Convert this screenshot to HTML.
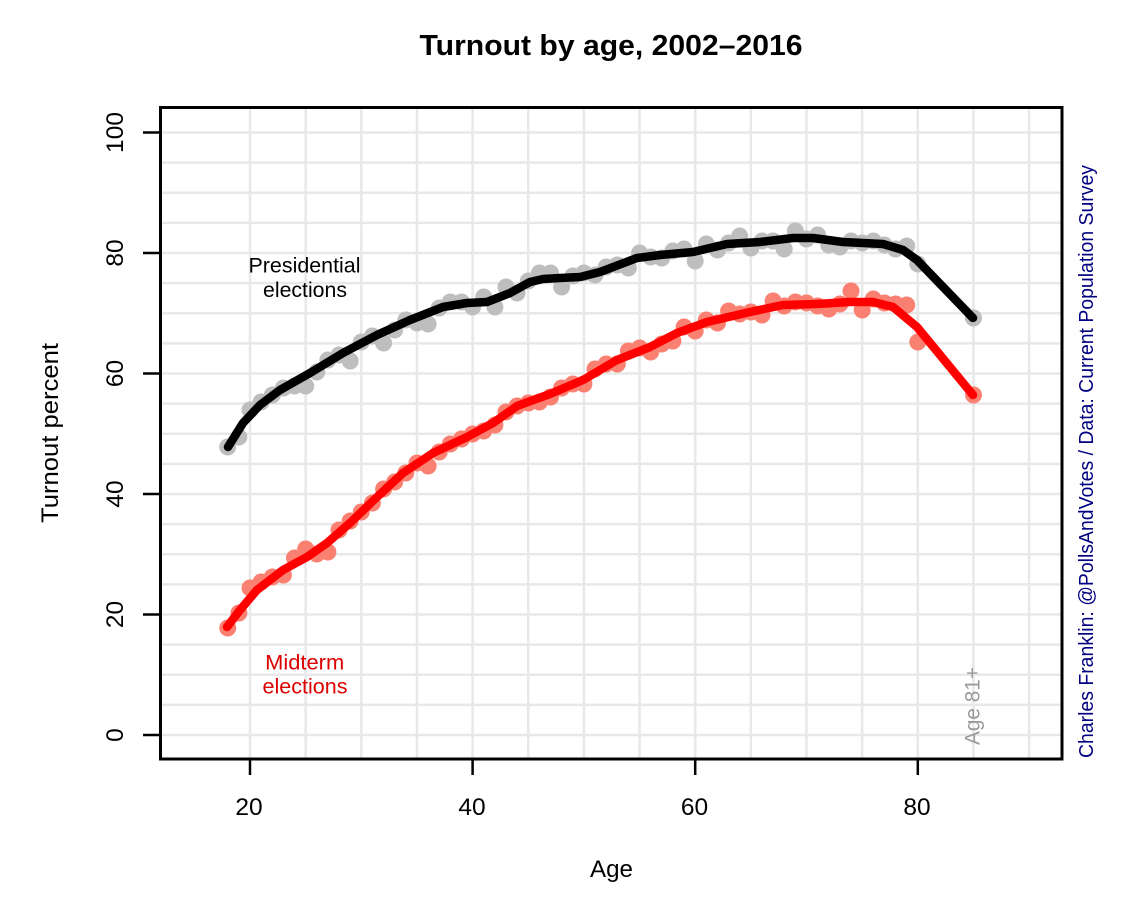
<!DOCTYPE html>
<html>
<head>
<meta charset="utf-8">
<style>
html,body{margin:0;padding:0;background:#fff;}
svg{display:block;}
text{font-family:"Liberation Sans",Arial,sans-serif;}
</style>
</head>
<body>
<svg width="1130" height="913" viewBox="0 0 1130 913" xmlns="http://www.w3.org/2000/svg">
<rect x="0" y="0" width="1130" height="913" fill="#fff"/>
<!-- grid -->
<g stroke="#e8e8e8" stroke-width="2.5">
<line x1="161" x2="1062" y1="735" y2="735"/>
<line x1="161" x2="1062" y1="704.9" y2="704.9"/>
<line x1="161" x2="1062" y1="674.75" y2="674.75"/>
<line x1="161" x2="1062" y1="644.6" y2="644.6"/>
<line x1="161" x2="1062" y1="614.5" y2="614.5"/>
<line x1="161" x2="1062" y1="584.4" y2="584.4"/>
<line x1="161" x2="1062" y1="554.25" y2="554.25"/>
<line x1="161" x2="1062" y1="524.1" y2="524.1"/>
<line x1="161" x2="1062" y1="494" y2="494"/>
<line x1="161" x2="1062" y1="463.9" y2="463.9"/>
<line x1="161" x2="1062" y1="433.75" y2="433.75"/>
<line x1="161" x2="1062" y1="403.6" y2="403.6"/>
<line x1="161" x2="1062" y1="373.5" y2="373.5"/>
<line x1="161" x2="1062" y1="343.4" y2="343.4"/>
<line x1="161" x2="1062" y1="313.25" y2="313.25"/>
<line x1="161" x2="1062" y1="283.1" y2="283.1"/>
<line x1="161" x2="1062" y1="253" y2="253"/>
<line x1="161" x2="1062" y1="222.9" y2="222.9"/>
<line x1="161" x2="1062" y1="192.75" y2="192.75"/>
<line x1="161" x2="1062" y1="162.6" y2="162.6"/>
<line x1="161" x2="1062" y1="132.5" y2="132.5"/>
<line y1="108" y2="759" x1="250" x2="250"/>
<line y1="108" y2="759" x1="305.65" x2="305.65"/>
<line y1="108" y2="759" x1="361.3" x2="361.3"/>
<line y1="108" y2="759" x1="416.95" x2="416.95"/>
<line y1="108" y2="759" x1="472.6" x2="472.6"/>
<line y1="108" y2="759" x1="528.25" x2="528.25"/>
<line y1="108" y2="759" x1="583.9" x2="583.9"/>
<line y1="108" y2="759" x1="639.55" x2="639.55"/>
<line y1="108" y2="759" x1="695.2" x2="695.2"/>
<line y1="108" y2="759" x1="750.85" x2="750.85"/>
<line y1="108" y2="759" x1="806.5" x2="806.5"/>
<line y1="108" y2="759" x1="862.15" x2="862.15"/>
<line y1="108" y2="759" x1="917.8" x2="917.8"/>
<line y1="108" y2="759" x1="973.45" x2="973.45"/>
<line y1="108" y2="759" x1="1029.1" x2="1029.1"/>
</g>

<!-- presidential points -->
<g fill="#bebebe">
<circle cx="227.7" cy="447" r="8.5"/><circle cx="238.9" cy="437" r="8.5"/><circle cx="250" cy="410" r="8.5"/><circle cx="261.1" cy="402" r="8.5"/><circle cx="272.3" cy="395" r="8.5"/><circle cx="283.4" cy="388" r="8.5"/><circle cx="294.5" cy="386" r="8.5"/><circle cx="305.7" cy="386" r="8.5"/><circle cx="316.8" cy="372" r="8.5"/><circle cx="327.9" cy="360" r="8.5"/><circle cx="339" cy="355" r="8.5"/><circle cx="350.2" cy="361" r="8.5"/><circle cx="361.3" cy="342" r="8.5"/><circle cx="372.4" cy="336" r="8.5"/><circle cx="383.6" cy="343" r="8.5"/><circle cx="394.7" cy="330" r="8.5"/><circle cx="405.8" cy="320" r="8.5"/><circle cx="417" cy="323" r="8.5"/><circle cx="428.1" cy="324" r="8.5"/><circle cx="439.2" cy="308" r="8.5"/><circle cx="450.3" cy="302" r="8.5"/><circle cx="461.5" cy="302" r="8.5"/><circle cx="472.6" cy="307" r="8.5"/><circle cx="483.7" cy="297" r="8.5"/><circle cx="494.9" cy="307" r="8.5"/><circle cx="506" cy="287" r="8.5"/><circle cx="517.1" cy="293" r="8.5"/><circle cx="528.3" cy="281" r="8.5"/><circle cx="539.4" cy="273" r="8.5"/><circle cx="550.5" cy="273" r="8.5"/><circle cx="561.6" cy="287" r="8.5"/><circle cx="572.8" cy="276" r="8.5"/><circle cx="583.9" cy="273" r="8.5"/><circle cx="595" cy="275" r="8.5"/><circle cx="606.2" cy="267" r="8.5"/><circle cx="617.3" cy="265" r="8.5"/><circle cx="628.4" cy="268" r="8.5"/><circle cx="639.6" cy="253" r="8.5"/><circle cx="650.7" cy="257" r="8.5"/><circle cx="661.8" cy="258" r="8.5"/><circle cx="672.9" cy="251" r="8.5"/><circle cx="684.1" cy="249" r="8.5"/><circle cx="695.2" cy="261" r="8.5"/><circle cx="706.3" cy="244" r="8.5"/><circle cx="717.5" cy="250" r="8.5"/><circle cx="728.6" cy="243" r="8.5"/><circle cx="739.7" cy="236" r="8.5"/><circle cx="750.9" cy="248" r="8.5"/><circle cx="762" cy="241" r="8.5"/><circle cx="773.1" cy="241" r="8.5"/><circle cx="784.2" cy="249" r="8.5"/><circle cx="795.4" cy="231" r="8.5"/><circle cx="806.5" cy="239" r="8.5"/><circle cx="817.6" cy="235" r="8.5"/><circle cx="828.8" cy="245" r="8.5"/><circle cx="839.9" cy="247" r="8.5"/><circle cx="851" cy="241" r="8.5"/><circle cx="862.2" cy="243" r="8.5"/><circle cx="873.3" cy="241" r="8.5"/><circle cx="884.4" cy="245" r="8.5"/><circle cx="895.5" cy="249" r="8.5"/><circle cx="906.7" cy="246" r="8.5"/><circle cx="917.8" cy="264" r="8.5"/><circle cx="973.5" cy="318" r="8.5"/>
</g>

<!-- midterm points -->
<g fill="#fa8072">
<circle cx="227.7" cy="628" r="8.5"/><circle cx="238.9" cy="613" r="8.5"/><circle cx="250" cy="588" r="8.5"/><circle cx="261.1" cy="582" r="8.5"/><circle cx="272.3" cy="577" r="8.5"/><circle cx="283.4" cy="575" r="8.5"/><circle cx="294.5" cy="558" r="8.5"/><circle cx="305.7" cy="549" r="8.5"/><circle cx="316.8" cy="554" r="8.5"/><circle cx="327.9" cy="552" r="8.5"/><circle cx="339" cy="530" r="8.5"/><circle cx="350.2" cy="521" r="8.5"/><circle cx="361.3" cy="512" r="8.5"/><circle cx="372.4" cy="503" r="8.5"/><circle cx="383.6" cy="489" r="8.5"/><circle cx="394.7" cy="482" r="8.5"/><circle cx="405.8" cy="473" r="8.5"/><circle cx="417" cy="463" r="8.5"/><circle cx="428.1" cy="466" r="8.5"/><circle cx="439.2" cy="452" r="8.5"/><circle cx="450.3" cy="444" r="8.5"/><circle cx="461.5" cy="439" r="8.5"/><circle cx="472.6" cy="434" r="8.5"/><circle cx="483.7" cy="431" r="8.5"/><circle cx="494.9" cy="425" r="8.5"/><circle cx="506" cy="412" r="8.5"/><circle cx="517.1" cy="406" r="8.5"/><circle cx="528.3" cy="403" r="8.5"/><circle cx="539.4" cy="402" r="8.5"/><circle cx="550.5" cy="397" r="8.5"/><circle cx="561.6" cy="388" r="8.5"/><circle cx="572.8" cy="384" r="8.5"/><circle cx="583.9" cy="384" r="8.5"/><circle cx="595" cy="369" r="8.5"/><circle cx="606.2" cy="364" r="8.5"/><circle cx="617.3" cy="364" r="8.5"/><circle cx="628.4" cy="351" r="8.5"/><circle cx="639.6" cy="348" r="8.5"/><circle cx="650.7" cy="352" r="8.5"/><circle cx="661.8" cy="344" r="8.5"/><circle cx="672.9" cy="341" r="8.5"/><circle cx="684.1" cy="327" r="8.5"/><circle cx="695.2" cy="331" r="8.5"/><circle cx="706.3" cy="320" r="8.5"/><circle cx="717.5" cy="323" r="8.5"/><circle cx="728.6" cy="311" r="8.5"/><circle cx="739.7" cy="314" r="8.5"/><circle cx="750.9" cy="312" r="8.5"/><circle cx="762" cy="315" r="8.5"/><circle cx="773.1" cy="301" r="8.5"/><circle cx="784.2" cy="306" r="8.5"/><circle cx="795.4" cy="302" r="8.5"/><circle cx="806.5" cy="303" r="8.5"/><circle cx="817.6" cy="306" r="8.5"/><circle cx="828.8" cy="309" r="8.5"/><circle cx="839.9" cy="304" r="8.5"/><circle cx="851" cy="291" r="8.5"/><circle cx="862.2" cy="310" r="8.5"/><circle cx="873.3" cy="299" r="8.5"/><circle cx="884.4" cy="303" r="8.5"/><circle cx="895.5" cy="304" r="8.5"/><circle cx="906.7" cy="305" r="8.5"/><circle cx="917.8" cy="342" r="8.5"/><circle cx="973.5" cy="395" r="8.5"/>
</g>

<!-- smooth lines -->
<polyline fill="none" stroke="#000" stroke-width="8.5" stroke-linejoin="round" stroke-linecap="round"
points="228,447 243,423 260,405 280,390 310,373 343,353 377,335 410,320 443,307 467,303 487,302 510,293 530,282 543,279 560,278 580,277 600,272 637,258 660,255 693,252 727,244 760,242 793,238 813,238 843,242 883,244 903,250 917,260 973,318"/>
<polyline fill="none" stroke="#ff0000" stroke-width="8.5" stroke-linejoin="round" stroke-linecap="round"
points="227,627 240,610 257,590 283,570 307,557 327,543 350,523 377,497 403,473 433,453 467,437 493,423 517,406 550,394 583,380 617,360 650,347 677,333 707,322 750,312 783,305 817,304 850,302 873,302 893,307 917,327 973,395"/>

<!-- box -->
<rect x="160.5" y="107.5" width="901.5" height="651.5" fill="none" stroke="#000" stroke-width="3"/>

<!-- ticks -->
<g stroke="#000" stroke-width="2.5">
<line x1="143" x2="160" y1="735" y2="735"/>
<line x1="143" x2="160" y1="614.5" y2="614.5"/>
<line x1="143" x2="160" y1="494" y2="494"/>
<line x1="143" x2="160" y1="373.5" y2="373.5"/>
<line x1="143" x2="160" y1="253" y2="253"/>
<line x1="143" x2="160" y1="132.5" y2="132.5"/>
<line y1="759" y2="775" x1="250" x2="250"/>
<line y1="759" y2="775" x1="472.6" x2="472.6"/>
<line y1="759" y2="775" x1="695.2" x2="695.2"/>
<line y1="759" y2="775" x1="917.8" x2="917.8"/>
</g>

<!-- y tick labels -->
<g font-size="24.5" fill="#000" text-anchor="middle">
<text transform="translate(123,735) rotate(-90)">0</text>
<text transform="translate(123,614.5) rotate(-90)">20</text>
<text transform="translate(123,494) rotate(-90)">40</text>
<text transform="translate(123,373.5) rotate(-90)">60</text>
<text transform="translate(123,253) rotate(-90)">80</text>
<text transform="translate(123,132.5) rotate(-90)">100</text>
</g>

<!-- x tick labels -->
<g font-size="24.5" fill="#000" text-anchor="middle">
<text x="249" y="815">20</text>
<text x="472" y="815">40</text>
<text x="694.5" y="815">60</text>
<text x="917" y="815">80</text>
</g>

<!-- titles -->
<text x="611" y="55" font-size="28.5" font-weight="bold" text-anchor="middle" textLength="383" lengthAdjust="spacingAndGlyphs">Turnout by age, 2002–2016</text>
<text x="611.5" y="877" font-size="24" text-anchor="middle" textLength="43" lengthAdjust="spacingAndGlyphs">Age</text>
<text transform="translate(58,433) rotate(-90)" font-size="24" text-anchor="middle" textLength="180" lengthAdjust="spacingAndGlyphs">Turnout percent</text>

<!-- annotations -->
<g font-size="21" text-anchor="middle">
<text x="304.5" y="272.5" textLength="112" lengthAdjust="spacingAndGlyphs">Presidential</text>
<text x="305" y="297" textLength="84" lengthAdjust="spacingAndGlyphs">elections</text>
<text x="304.7" y="669.5" fill="#dd0000" textLength="79" lengthAdjust="spacingAndGlyphs">Midterm</text>
<text x="305" y="693.5" fill="#dd0000" textLength="85" lengthAdjust="spacingAndGlyphs">elections</text>
</g>
<text transform="translate(979.5,706) rotate(-90)" font-size="21" fill="#9a9a9a" text-anchor="middle" textLength="78" lengthAdjust="spacingAndGlyphs">Age 81+</text>
<text transform="translate(1093,461.5) rotate(-90)" font-size="20" fill="#000080" text-anchor="middle" textLength="593" lengthAdjust="spacingAndGlyphs">Charles Franklin: @PollsAndVotes / Data: Current Population Survey</text>
</svg>
</body>
</html>
